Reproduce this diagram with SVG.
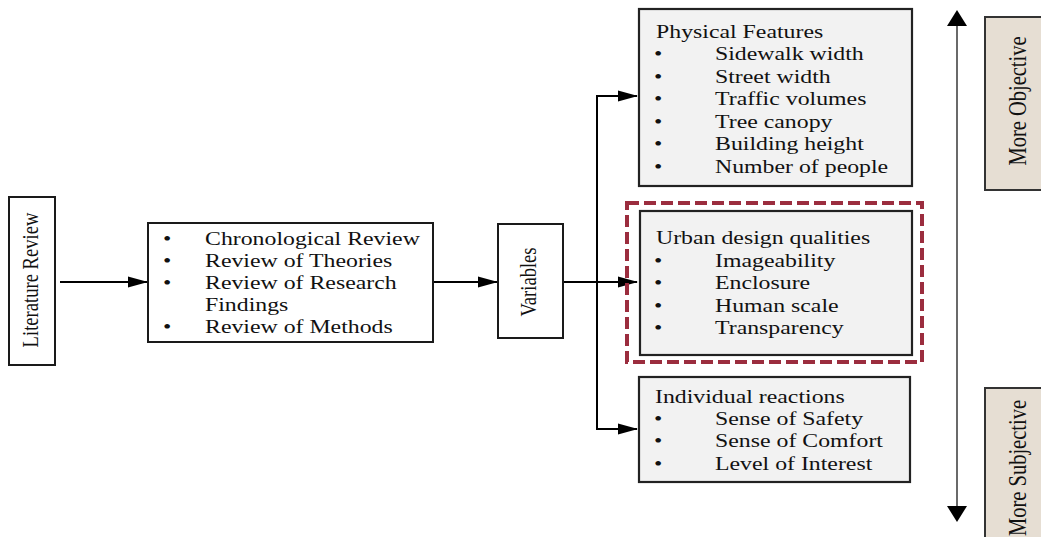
<svg xmlns="http://www.w3.org/2000/svg" width="1041" height="537" viewBox="0 0 1041 537">
<style>
.box{fill:#ffffff;stroke:#1a1a1a;stroke-width:2}
.gbox{fill:#f2f2f2;stroke:#222222;stroke-width:2.2}
.bbox{fill:#e6ded3;stroke:#333333;stroke-width:2}
.t{font-family:"Liberation Serif","Times New Roman",serif;font-size:18.6px;fill:#111111}
.tb{font-family:"Liberation Serif","Times New Roman",serif;font-size:20.5px;fill:#111111}
.conn{fill:none;stroke:#000000;stroke-width:2}
</style>
<defs>
<marker id="ah" markerUnits="userSpaceOnUse" markerWidth="20" markerHeight="12" refX="19" refY="6" orient="auto">
<path d="M0,0.5 L20,6 L0,11.5 Z" fill="#000000"/>
</marker>
</defs>

<g id="connectors">
<line class="conn" x1="60" y1="282" x2="147" y2="282" marker-end="url(#ah)"/>
<line class="conn" x1="433" y1="282" x2="497" y2="282" marker-end="url(#ah)"/>
<line class="conn" x1="563" y1="282" x2="637" y2="282" marker-end="url(#ah)"/>
<path class="conn" d="M637,96 L597,96 L597,429 L637,429" marker-end="url(#ah)"/>
<line class="conn" x1="597" y1="96" x2="637" y2="96" marker-end="url(#ah)"/>
<line x1="957" y1="22" x2="957" y2="510" stroke="#444444" stroke-width="1.6"/>
<polygon points="957,10 967,26 947,26" fill="#000000"/>
<polygon points="957,522 967,506 947,506" fill="#000000"/>
</g>

<g id="literature-review">
<rect class="box" x="9" y="197" width="46" height="168"/>
<text class="t" text-anchor="middle" transform="translate(38,280) scale(1.28,1) rotate(-90)">Literature Review</text>
</g>

<g id="review-list">
<rect class="box" x="148" y="223" width="285" height="119"/>
<g class="t">
<text transform="translate(163,245) scale(1.28,1)">•</text>
<text transform="translate(205,245) scale(1.28,1)">Chronological Review</text>
<text transform="translate(163,267) scale(1.28,1)">•</text>
<text transform="translate(205,267) scale(1.28,1)">Review of Theories</text>
<text transform="translate(163,289) scale(1.28,1)">•</text>
<text transform="translate(205,289) scale(1.28,1)">Review of Research</text>
<text transform="translate(205,311) scale(1.28,1)">Findings</text>
<text transform="translate(163,333) scale(1.28,1)">•</text>
<text transform="translate(205,333) scale(1.28,1)">Review of Methods</text>
</g>
</g>

<g id="variables">
<rect class="box" x="498" y="224" width="65" height="114"/>
<text class="t" text-anchor="middle" transform="translate(536,282) scale(1.28,1) rotate(-90)">Variables</text>
</g>

<g id="physical-features">
<rect class="gbox" x="639" y="9" width="273" height="177"/>
<g class="t">
<text transform="translate(656,38) scale(1.28,1)">Physical Features</text>
<text transform="translate(654,60) scale(1.28,1)">•</text>
<text transform="translate(715,60) scale(1.28,1)">Sidewalk width</text>
<text transform="translate(654,83) scale(1.28,1)">•</text>
<text transform="translate(715,83) scale(1.28,1)">Street width</text>
<text transform="translate(654,105) scale(1.28,1)">•</text>
<text transform="translate(715,105) scale(1.28,1)">Traffic volumes</text>
<text transform="translate(654,128) scale(1.28,1)">•</text>
<text transform="translate(715,128) scale(1.28,1)">Tree canopy</text>
<text transform="translate(654,150) scale(1.28,1)">•</text>
<text transform="translate(715,150) scale(1.28,1)">Building height</text>
<text transform="translate(654,173) scale(1.28,1)">•</text>
<text transform="translate(715,173) scale(1.28,1)">Number of people</text>
</g>
</g>

<g id="urban-design-qualities">
<rect x="627" y="203" width="295" height="159" fill="none" stroke="#9b2d3e" stroke-width="4" stroke-dasharray="12,5"/>
<rect class="gbox" x="640" y="211" width="272" height="144"/>
<g class="t">
<text transform="translate(656,244) scale(1.28,1)">Urban design qualities</text>
<text transform="translate(654,267) scale(1.28,1)">•</text>
<text transform="translate(715,267) scale(1.28,1)">Imageability</text>
<text transform="translate(654,289) scale(1.28,1)">•</text>
<text transform="translate(715,289) scale(1.28,1)">Enclosure</text>
<text transform="translate(654,312) scale(1.28,1)">•</text>
<text transform="translate(715,312) scale(1.28,1)">Human scale</text>
<text transform="translate(654,334) scale(1.28,1)">•</text>
<text transform="translate(715,334) scale(1.28,1)">Transparency</text>
</g>
</g>

<g id="individual-reactions">
<rect class="gbox" x="639" y="377" width="271" height="105"/>
<g class="t">
<text transform="translate(655,403) scale(1.28,1)">Individual reactions</text>
<text transform="translate(654,425) scale(1.28,1)">•</text>
<text transform="translate(715,425) scale(1.28,1)">Sense of Safety</text>
<text transform="translate(654,447) scale(1.28,1)">•</text>
<text transform="translate(715,447) scale(1.28,1)">Sense of Comfort</text>
<text transform="translate(654,470) scale(1.28,1)">•</text>
<text transform="translate(715,470) scale(1.28,1)">Level of Interest</text>
</g>
</g>

<g id="more-objective">
<rect class="bbox" x="985" y="17" width="70" height="173"/>
<text class="tb" text-anchor="middle" transform="translate(1026,101) scale(1.28,1) rotate(-90)">More Objective</text>
</g>

<g id="more-subjective">
<rect class="bbox" x="985" y="388" width="70" height="160"/>
<text class="tb" text-anchor="middle" transform="translate(1026,468) scale(1.28,1) rotate(-90)">More Subjective</text>
</g>
</svg>
